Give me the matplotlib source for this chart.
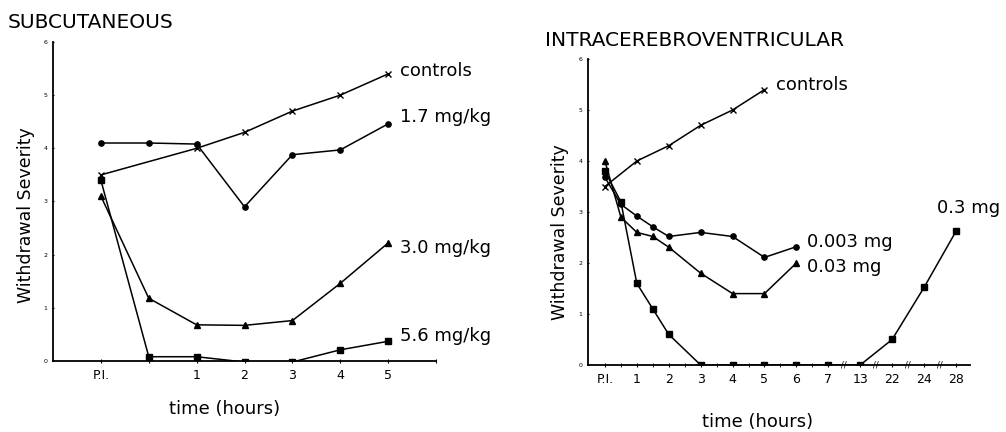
import matplotlib.pyplot as plt
import numpy as np

# subcutaneous panel data (time slots along the x axis)
sc_times = ['P.I.', '0.5', '1', '2', '3', '4', '5']
sc_controls_t = ['P.I.', '1', '2', '3', '4', '5']
sc_controls = [3.5, 4.0, 4.3, 4.7, 5.0, 5.4]
sc_17 = [4.1, 4.1, 4.08, 2.9, 3.88, 3.97, 4.46]
sc_30 = [3.1, 1.18, 0.68, 0.67, 0.76, 1.46, 2.22]
sc_56 = [3.4, 0.08, 0.08, -0.02, -0.02, 0.21, 0.37]

# intracerebroventricular panel data
icv_ticks = ['P.I.', '1', '2', '3', '4', '5', '6', '7', '13', '22', '24', '28']
icv_controls_t = ['P.I.', '1', '2', '3', '4', '5']
icv_controls = [3.5, 4.0, 4.3, 4.7, 5.0, 5.4]
icv_short_t = ['P.I.', '0.5', '1', '1.5', '2', '3', '4', '5', '6']
icv_0003 = [3.68, 3.15, 2.92, 2.71, 2.52, 2.6, 2.52, 2.11, 2.32]
icv_003 = [4.0, 2.9, 2.6, 2.52, 2.31, 1.8, 1.4, 1.4, 2.0]
icv_03_t = ['P.I.', '0.5', '1', '1.5', '2', '3', '4', '5', '6', '7', '13', '22', '24', '28']
icv_03 = [3.8, 3.2, 1.6, 1.1, 0.6, 0.0, 0.0, 0.0, 0.0, 0.0, 0.0, 0.5, 1.52, 2.62]


def sc_x(ts):
    return [sc_times.index(t) for t in ts]


def icv_x(ts):
    out = []
    for t in ts:
        if t == 'P.I.':
            out.append(0.0)
        elif float(t) <= 7:
            out.append(float(t))
        else:
            out.append(float(icv_ticks.index(t)))
    return out


fig = plt.figure(figsize=(10.06, 4.32), dpi=100)
ax1 = fig.add_axes([0.0527, 0.1644, 0.3807, 0.7384])
ax2 = fig.add_axes([0.5845, 0.1551, 0.3797, 0.7083])

lw = 1.1
ms = 3.8
k = 'black'

# left panel
ax1.plot(sc_x(sc_controls_t), sc_controls, color=k, lw=lw, marker='x', ms=ms, mew=1)
ax1.plot(sc_x(sc_times), sc_17, color=k, lw=lw, marker='o', ms=ms)
ax1.plot(sc_x(sc_times), sc_30, color=k, lw=lw, marker='^', ms=ms)
ax1.plot(sc_x(sc_times), sc_56, color=k, lw=lw, marker='s', ms=ms)
ax1.set_xlim(-1, 7)
ax1.set_ylim(0, 6)
ax1.set_xticks(range(0, 8))
ax1.set_xticklabels(['P.I.', '', '1', '2', '3', '4', '5', ''])
lab_kw = dict(fontsize=13, va='center', ha='left', clip_on=False)
ax1.text(6.25, sc_controls[-1] + 0.06, 'controls', **lab_kw)
ax1.text(6.25, sc_17[-1] + 0.12, '1.7 mg/kg', **lab_kw)
ax1.text(6.25, sc_30[-1] - 0.1, '3.0 mg/kg', **lab_kw)
ax1.text(6.25, sc_56[-1] + 0.1, '5.6 mg/kg', **lab_kw)
ax1.set_xlabel('time (hours)', fontsize=13, labelpad=13)
ax1.set_ylabel('Withdrawal Severity', fontsize=12.5, labelpad=6)
ax1.xaxis.label.set_x(0.449)
ax1.yaxis.label.set_y(0.458)

# right panel
ax2.plot(icv_x(icv_controls_t), icv_controls, color=k, lw=lw, marker='x', ms=ms, mew=1)
ax2.plot(icv_x(icv_short_t), icv_0003, color=k, lw=lw, marker='o', ms=ms)
ax2.plot(icv_x(icv_short_t), icv_003, color=k, lw=lw, marker='^', ms=ms)
ax2.plot(icv_x(icv_03_t), icv_03, color=k, lw=lw, marker='s', ms=ms)
ax2.set_xlim(-0.53, 11.44)
ax2.set_ylim(0, 6)
ax2.set_xticks(range(0, 12))
ax2.set_xticklabels(icv_ticks)
ax2.set_xticks(np.arange(0.5, 7, 1.0), minor=True)
# axis break marks
for b in np.arange(7.5, 11, 1.0):
    ax2.text(b, 0, '//', fontsize=6, ha='center', va='center', clip_on=False)
ax2.text(5.35, icv_controls[-1] + 0.1, 'controls', **lab_kw)
ax2.text(6.33, icv_0003[-1] + 0.09, '0.003 mg', **lab_kw)
ax2.text(6.33, icv_003[-1] - 0.08, '0.03 mg', **lab_kw)
ax2.text(10.4, icv_03[-1] + 0.46, '0.3 mg', **lab_kw)
ax2.set_xlabel('time (hours)', fontsize=13, labelpad=20)
ax2.set_ylabel('Withdrawal Severity', fontsize=12.5, labelpad=7)
ax2.xaxis.label.set_x(0.445)
ax2.yaxis.label.set_y(0.435)

for ax in (ax1, ax2):
    ax.spines['top'].set_visible(False)
    ax.spines['right'].set_visible(False)
    ax.spines['left'].set_linewidth(1.3)
    ax.spines['bottom'].set_linewidth(1.3)
    ax.set_yticks(range(0, 7))
    ax.tick_params(axis='y', labelsize=4.5, length=2, direction='inout', pad=3)
    ax.tick_params(axis='x', which='major', labelsize=9, length=3, direction='inout', pad=4)
    ax.tick_params(axis='x', which='minor', length=3, direction='inout')

fig.text(0.008, 0.948, 'SUBCUTANEOUS', fontsize=14.5, ha='left', va='center')
fig.text(0.542, 0.907, 'INTRACEREBROVENTRICULAR', fontsize=14.5, ha='left', va='center')

fig.savefig('out.png', dpi=100)
